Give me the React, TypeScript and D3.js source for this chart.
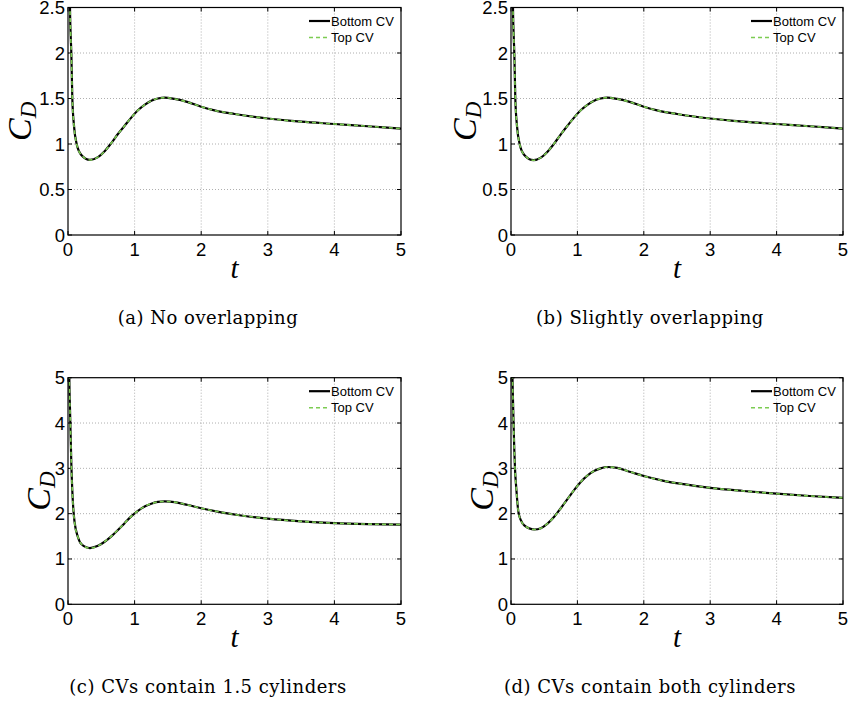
import React from "react";
import * as d3 from "d3";

// ---------- data ----------
const timeA = [0.01, 0.02, 0.03, 0.04, 0.05, 0.065, 0.09, 0.13, 0.2, 0.33, 0.45, 0.55, 0.65, 0.75, 0.85, 0.95, 1.05, 1.15, 1.25, 1.35, 1.45, 1.6, 1.8, 2.0, 2.2, 2.5, 3.0, 3.5, 4.0, 4.5, 5.0];
const bottomA = [6.0, 3.6, 2.5, 2.2, 2.0, 1.5, 1.2, 1.0, 0.88, 0.825, 0.855, 0.92, 1.01, 1.11, 1.2, 1.29, 1.37, 1.43, 1.475, 1.5, 1.51, 1.495, 1.46, 1.41, 1.37, 1.33, 1.28, 1.245, 1.22, 1.195, 1.17];
const topA = [6.0, 3.6, 2.5, 2.2, 2.0, 1.5, 1.2, 1.0, 0.88, 0.825, 0.855, 0.92, 1.01, 1.11, 1.2, 1.29, 1.37, 1.43, 1.475, 1.5, 1.51, 1.495, 1.46, 1.41, 1.37, 1.33, 1.28, 1.245, 1.22, 1.195, 1.17];

const timeB = [0.01, 0.02, 0.03, 0.04, 0.05, 0.065, 0.09, 0.13, 0.2, 0.34, 0.45, 0.55, 0.65, 0.75, 0.85, 0.95, 1.05, 1.15, 1.25, 1.35, 1.45, 1.6, 1.8, 2.0, 2.2, 2.5, 3.0, 3.5, 4.0, 4.5, 5.0];
const bottomB = [6.0, 3.6, 2.5, 2.2, 2.0, 1.5, 1.2, 1.0, 0.88, 0.822, 0.85, 0.915, 1.005, 1.105, 1.2, 1.29, 1.37, 1.43, 1.475, 1.5, 1.51, 1.495, 1.46, 1.41, 1.37, 1.33, 1.28, 1.245, 1.22, 1.195, 1.17];
const topB = [6.0, 3.6, 2.5, 2.2, 2.0, 1.5, 1.2, 1.0, 0.88, 0.822, 0.85, 0.915, 1.005, 1.105, 1.2, 1.29, 1.37, 1.43, 1.475, 1.5, 1.51, 1.495, 1.46, 1.41, 1.37, 1.33, 1.28, 1.245, 1.22, 1.195, 1.17];

const timeC = [0.01, 0.02, 0.03, 0.04, 0.05, 0.065, 0.08, 0.1, 0.15, 0.2, 0.33, 0.45, 0.55, 0.65, 0.75, 0.85, 0.95, 1.05, 1.15, 1.25, 1.35, 1.45, 1.6, 1.8, 2.0, 2.3, 2.6, 3.0, 3.5, 4.0, 4.5, 5.0];
const bottomC = [8.0, 5.0, 4.3, 3.7, 3.1, 2.5, 2.1, 1.8, 1.48, 1.33, 1.24, 1.29, 1.38, 1.5, 1.64, 1.79, 1.94, 2.06, 2.16, 2.22, 2.26, 2.27, 2.255, 2.19, 2.12, 2.03, 1.96, 1.89, 1.83, 1.79, 1.77, 1.76];
const topC = [8.0, 5.0, 4.3, 3.7, 3.1, 2.5, 2.1, 1.8, 1.48, 1.33, 1.24, 1.29, 1.38, 1.5, 1.64, 1.79, 1.94, 2.06, 2.16, 2.22, 2.26, 2.27, 2.255, 2.19, 2.12, 2.03, 1.96, 1.89, 1.83, 1.79, 1.77, 1.76];

const timeD = [0.01, 0.02, 0.03, 0.04, 0.05, 0.06, 0.08, 0.11, 0.15, 0.2, 0.35, 0.45, 0.55, 0.65, 0.75, 0.85, 0.95, 1.05, 1.15, 1.25, 1.35, 1.45, 1.6, 1.8, 2.0, 2.3, 2.6, 3.0, 3.5, 4.0, 4.5, 5.0];
const bottomD = [8.0, 5.3, 4.5, 3.9, 3.4, 3.0, 2.55, 2.05, 1.85, 1.74, 1.65, 1.68, 1.78, 1.93, 2.12, 2.32, 2.52, 2.7, 2.84, 2.94, 3.0, 3.03, 3.01, 2.92, 2.83, 2.725, 2.65, 2.57, 2.5, 2.44, 2.39, 2.35];
const topD = [8.0, 5.3, 4.5, 3.9, 3.4, 3.0, 2.55, 2.05, 1.85, 1.74, 1.65, 1.68, 1.78, 1.93, 2.12, 2.32, 2.52, 2.7, 2.84, 2.94, 3.0, 3.03, 3.01, 2.92, 2.83, 2.725, 2.65, 2.57, 2.5, 2.44, 2.39, 2.35];

const xTicks = [0, 1, 2, 3, 4, 5];
const yTicksSmall = [0, 0.5, 1, 1.5, 2, 2.5];
const yTicksLarge = [0, 1, 2, 3, 4, 5];
const legendLabels = ["Bottom CV", "Top CV"];
const captions = [
  "(a)  No overlapping",
  "(b)  Slightly overlapping",
  "(c)  CVs contain 1.5 cylinders",
  "(d)  CVs contain both cylinders",
];

// ---------- layout ----------
const W = 850;
const H = 704;
const GREEN = "#7ccc52";
const SANS = "Liberation Sans, Arial, sans-serif";

type PanelProps = {
  id: string;
  left: number;
  right: number;
  top: number;
  bottom: number;
  yMax: number;
  yTicks: number[];
  time: number[];
  bottomCv: number[];
  topCv: number[];
  caption: string;
  captionX: number;
  captionY: number;
  yLabelX: number;
};

function Panel(p: PanelProps) {
  const x = d3.scaleLinear().domain([0, 5]).range([p.left, p.right]);
  const y = d3.scaleLinear().domain([0, p.yMax]).range([p.bottom, p.top]);
  const line = d3
    .line<[number, number]>()
    .x((d) => x(d[0]))
    .y((d) => y(d[1]))
    .curve(d3.curveMonotoneX);
  const botPts = p.time.map((t, i) => [t, p.bottomCv[i]] as [number, number]);
  const topPts = p.time.map((t, i) => [t, p.topCv[i]] as [number, number]);
  const tickLen = 4;
  const fmt = (v: number) => String(v);
  const cx = (p.left + p.right) / 2;
  const cy = (p.top + p.bottom) / 2;
  const lgX0 = p.right - 92;
  const lgX1 = p.right - 71;
  const lgTx = p.right - 70;
  return (
    <g>
      <defs>
        <clipPath id={p.id}>
          <rect x={p.left} y={p.top} width={p.right - p.left} height={p.bottom - p.top} />
        </clipPath>
      </defs>
      {/* grid */}
      {xTicks.slice(1, -1).map((t) => (
        <line key={"gx" + t} x1={x(t)} x2={x(t)} y1={p.top} y2={p.bottom} stroke="#9a9a9a" strokeWidth={0.8} strokeDasharray="1,2" />
      ))}
      {p.yTicks.slice(1, -1).map((t) => (
        <line key={"gy" + t} x1={p.left} x2={p.right} y1={y(t)} y2={y(t)} stroke="#9a9a9a" strokeWidth={0.8} strokeDasharray="1,2" />
      ))}
      {/* ticks */}
      {xTicks.map((t) => (
        <g key={"tx" + t}>
          <line x1={x(t)} x2={x(t)} y1={p.bottom} y2={p.bottom - tickLen} stroke="#000" strokeWidth={1} />
          <line x1={x(t)} x2={x(t)} y1={p.top} y2={p.top + tickLen} stroke="#000" strokeWidth={1} />
          <text x={x(t)} y={p.bottom + 21} textAnchor="middle" fontFamily={SANS} fontSize={18.5}>
            {fmt(t)}
          </text>
        </g>
      ))}
      {p.yTicks.map((t) => (
        <g key={"ty" + t}>
          <line x1={p.left} x2={p.left + tickLen} y1={y(t)} y2={y(t)} stroke="#000" strokeWidth={1} />
          <line x1={p.right} x2={p.right - tickLen} y1={y(t)} y2={y(t)} stroke="#000" strokeWidth={1} />
          <text x={p.left - 3} y={y(t) + 6.5} textAnchor="end" fontFamily={SANS} fontSize={18.5}>
            {fmt(t)}
          </text>
        </g>
      ))}
      {/* curves */}
      <g clipPath={`url(#${p.id})`}>
        <path d={line(botPts) || ""} fill="none" stroke="#000" strokeWidth={2.2} />
        <path d={line(topPts) || ""} fill="none" stroke={GREEN} strokeWidth={1.6} strokeDasharray="4,3" />
      </g>
      {/* frame */}
      <rect x={p.left} y={p.top} width={p.right - p.left} height={p.bottom - p.top} fill="none" stroke="#000" strokeWidth={1.2} />
      {/* legend */}
      <line x1={lgX0} x2={lgX1} y1={p.top + 13.5} y2={p.top + 13.5} stroke="#000" strokeWidth={2.2} />
      <text x={lgTx} y={p.top + 18} fontFamily={SANS} fontSize={13}>
        {legendLabels[0]}
      </text>
      <line x1={lgX0} x2={lgX1} y1={p.top + 30} y2={p.top + 30} stroke={GREEN} strokeWidth={1.6} strokeDasharray="4,3" />
      <text x={lgTx} y={p.top + 34.5} fontFamily={SANS} fontSize={13}>
        {legendLabels[1]}
      </text>
      {/* axis labels */}
      <text x={cx} y={p.bottom + 43} textAnchor="middle" fontFamily="Liberation Serif, serif" fontStyle="italic" fontSize={29}>
        t
      </text>
      <text
        transform={`translate(${p.yLabelX},${cy}) rotate(-90)`}
        textAnchor="middle"
        fontFamily="Liberation Serif, serif"
        fontStyle="italic"
        fontSize={34}
      >
        C<tspan fontSize={23} dy={5}>D</tspan>
      </text>
      {/* caption */}
      <text x={p.captionX} y={p.captionY} textAnchor="middle" fontFamily="DejaVu Serif, serif" fontSize={18} letterSpacing={0.5}>
        {p.caption}
      </text>
    </g>
  );
}

export default function App() {
  const topRow = { top: 7.5, bottom: 235 };
  const botRow = { top: 377.7, bottom: 604.3 };
  const leftCol = { left: 68, right: 401 };
  const rightCol = { left: 511, right: 843 };
  return (
    <svg width={W} height={H} style={{ position: "absolute", left: 0, top: 0, display: "block", background: "#fff" }}>
      <Panel id="clipA" {...leftCol} {...topRow} yMax={2.5} yTicks={yTicksSmall} time={timeA} bottomCv={bottomA} topCv={topA} caption={captions[0]} captionX={208} captionY={324} yLabelX={31} />
      <Panel id="clipB" {...rightCol} {...topRow} yMax={2.5} yTicks={yTicksSmall} time={timeB} bottomCv={bottomB} topCv={topB} caption={captions[1]} captionX={650} captionY={324} yLabelX={476} />
      <Panel id="clipC" {...leftCol} {...botRow} yMax={5} yTicks={yTicksLarge} time={timeC} bottomCv={bottomC} topCv={topC} caption={captions[2]} captionX={208} captionY={693} yLabelX={50} />
      <Panel id="clipD" {...rightCol} {...botRow} yMax={5} yTicks={yTicksLarge} time={timeD} bottomCv={bottomD} topCv={topD} caption={captions[3]} captionX={650} captionY={693} yLabelX={493} />
    </svg>
  );
}
